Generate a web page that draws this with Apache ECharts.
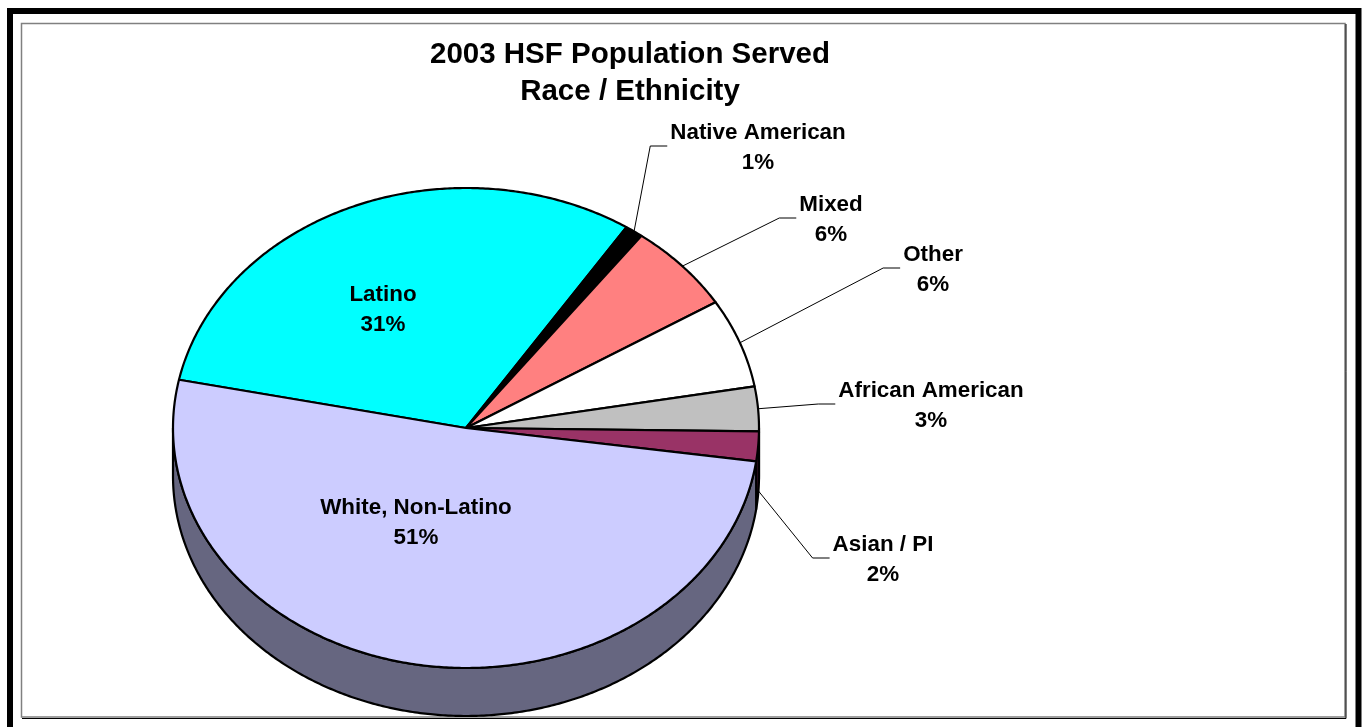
<!DOCTYPE html>
<html>
<head>
<meta charset="utf-8">
<title>2003 HSF Population Served</title>
<script src="https://cdn.jsdelivr.net/npm/echarts@6/dist/echarts.min.js"></script>
<style>
  html, body { margin: 0; padding: 0; background: #ffffff; }
  #chart { width: 1368px; height: 727px; }
</style>
</head>
<body>
<div id="chart"></div>
<script>
// Slices in clockwise order, starting at the Latino / White boundary
const categories = ['Latino', 'Native American', 'Mixed', 'Other', 'African American', 'Asian / PI', 'White, Non-Latino'];
const shares = [31, 1, 6, 6, 3, 2, 51];
const faceColors = ['#00FFFF', '#000000', '#FF8080', '#FFFFFF', '#C0C0C0', '#993366', '#CCCCFF'];

// Label block centres and whether the label sits outside the pie with a leader line
const labelCenters = [[383, 308], [758, 146], [831, 218], [933, 268], [931, 404], [883, 558], [416, 521]];
const labelOutside = [false, true, true, true, true, true, false];

// Tilted pie geometry
const PIE = { cx: 466, cy: 428, rx: 293, ry: 240, depth: 48, startAngle: 168.4 };
const LABEL_SIZE = 22.4;
const LABEL_FAMILY = '"Liberation Sans", Arial, Helvetica, sans-serif';
const LABEL_FONT = 'bold ' + LABEL_SIZE + 'px ' + LABEL_FAMILY;
// canvas 'middle' sits a little above the cap-height centre
const TEXT_NUDGE = 2;

const total = shares.reduce((a, b) => a + b, 0);

function shade(hex, f) {
  const n = parseInt(hex.slice(1), 16);
  const r = Math.round(((n >> 16) & 255) * f);
  const g = Math.round(((n >> 8) & 255) * f);
  const b = Math.round((n & 255) * f);
  return 'rgb(' + r + ',' + g + ',' + b + ')';
}

function rim(deg, drop) {
  const t = deg * Math.PI / 180;
  return [PIE.cx + PIE.rx * Math.cos(t), PIE.cy - PIE.ry * Math.sin(t) + (drop || 0)];
}

function arcPoints(from, to, drop) {
  const pts = [];
  const steps = Math.max(2, Math.ceil(Math.abs(to - from) / 0.5));
  for (let i = 0; i <= steps; i++) {
    pts.push(rim(from + (to - from) * i / steps, drop));
  }
  return pts;
}

const measureCtx = document.createElement('canvas').getContext('2d');
function textWidth(str) {
  measureCtx.font = LABEL_FONT;
  return measureCtx.measureText(str).width;
}

function renderSlice(params, api) {
  const idx = params.dataIndex;
  let before = 0;
  for (let i = 0; i < idx; i++) before += shares[i];
  const value = api.value(0);
  const a1 = PIE.startAngle - 360 * before / total;
  const a2 = a1 - 360 * value / total;
  const children = [];

  // front wall: portion of the slice facing the viewer (lower half)
  const lo = Math.min(a1, a2), hi = Math.max(a1, a2);
  for (let k = -2; k <= 2; k++) {
    const s = Math.max(lo, -180 + 360 * k);
    const e = Math.min(hi, 360 * k);
    if (e > s) {
      const top = arcPoints(s, e, 0);
      const bottom = arcPoints(e, s, PIE.depth);
      children.push({
        type: 'polygon',
        z2: 1,
        shape: { points: top.concat(bottom) },
        style: { fill: shade(faceColors[idx], 0.5), stroke: '#000000', lineWidth: 2.2, lineJoin: 'round' }
      });
    }
  }

  // top face
  children.push({
    type: 'polygon',
    z2: 10,
    shape: { points: [[PIE.cx, PIE.cy]].concat(arcPoints(a1, a2, 0)) },
    style: { fill: faceColors[idx], stroke: '#000000', lineWidth: 2.2, lineJoin: 'round' }
  });

  // data label
  const name = categories[idx];
  const pct = Math.round(value / total * 100) + '%';
  const c = labelCenters[idx];
  children.push({
    type: 'text',
    z2: 20,
    style: {
      text: name + '\n' + pct,
      x: c[0],
      y: c[1] + TEXT_NUDGE,
      font: LABEL_FONT,
      fontSize: LABEL_SIZE,
      fontWeight: 'bold',
      fontFamily: LABEL_FAMILY,
      lineHeight: 30,
      fill: '#000000',
      align: 'center',
      verticalAlign: 'middle',
      textAlign: 'center',
      textVerticalAlign: 'middle'
    }
  });

  // leader line from the slice edge to the label block
  if (labelOutside[idx]) {
    const mid = (a1 + a2) / 2;
    const below = Math.sin(mid * Math.PI / 180) < 0;
    const start = rim(mid, below ? PIE.depth * 0.92 : 0);
    const blockW = Math.max(textWidth(name), textWidth(pct));
    const endX = c[0] - blockW / 2 - 3;
    const end = [endX, c[1]];
    const elbow = [endX - 17, c[1]];
    children.push({
      type: 'polyline',
      z2: 15,
      shape: { points: [start, elbow, end] },
      style: { stroke: '#000000', lineWidth: 1, fill: null }
    });
  }

  return { type: 'group', children: children };
}

const chart = echarts.init(document.getElementById('chart'), null, { renderer: 'canvas' });

chart.setOption({
  backgroundColor: '#ffffff',
  animation: false,
  title: {
    text: '2003 HSF Population Served\nRace / Ethnicity',
    left: 630,
    top: 36,
    padding: 0,
    textAlign: 'center',
    textStyle: {
      fontFamily: LABEL_FAMILY,
      fontWeight: 'bold',
      fontSize: 29.5,
      lineHeight: 37,
      color: '#000000'
    }
  },
  graphic: [
    {
      type: 'rect',
      silent: true,
      shape: { x: 10, y: 11, width: 1348.5, height: 800 },
      style: { fill: null, stroke: '#000000', lineWidth: 6 }
    },
    {
      type: 'rect',
      silent: true,
      shape: { x: 21.5, y: 23.5, width: 1323.5, height: 693.5 },
      style: { fill: null, stroke: '#808080', lineWidth: 1.5 }
    },
    {
      type: 'polyline',
      silent: true,
      shape: { points: [[1346, 24], [1346, 718.5], [22, 718.5]] },
      style: { fill: null, stroke: '#000000', lineWidth: 1 }
    }
  ],
  series: [
    {
      type: 'custom',
      coordinateSystem: 'none',
      silent: true,
      renderItem: renderSlice,
      data: shares.map((v, i) => ({ name: categories[i], value: v }))
    }
  ]
});
</script>
</body>
</html>
